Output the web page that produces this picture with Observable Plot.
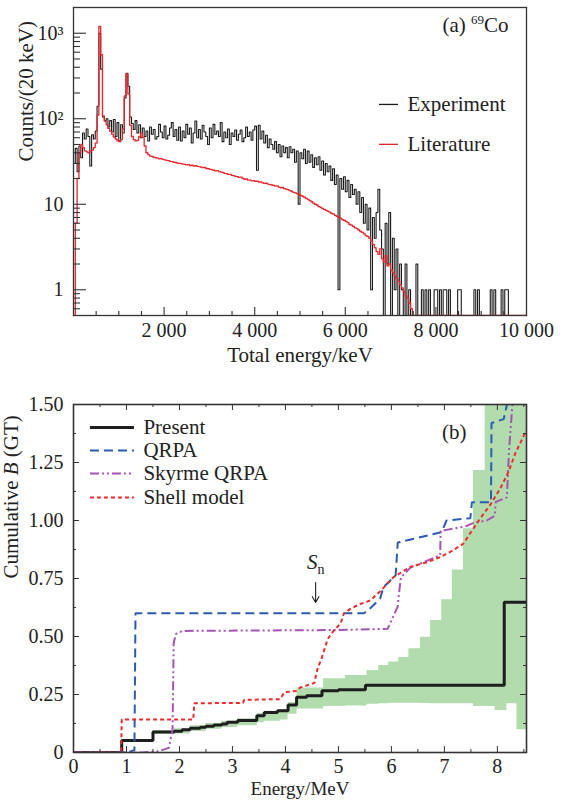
<!DOCTYPE html>
<html><head><meta charset="utf-8">
<script src="https://cdn.jsdelivr.net/npm/d3@7"></script>
<script src="https://cdn.jsdelivr.net/npm/@observablehq/plot@0.6"></script>
<style>body{margin:0;background:#fff} svg{display:block}</style>
</head><body>
<script>
// ---------- Panel (a): total-energy spectra, 40 keV bins starting at 0 keV ----------
const binWidth = 40;
const experiment = [
  30, 45, 24, 48, 35, 68, 58, 76, 62, 28,
  65, 58, 72, 140, 1000, 380, 105, 95, 100, 80,
  95, 70, 98, 62, 90, 55, 85, 68, 175, 340,
  240, 105, 88, 75, 95, 68, 85, 60, 78, 62,
  72, 55, 80, 66, 75, 58, 62, 86, 70, 60,
  82, 58, 64, 78, 90, 62, 75, 56, 80, 55,
  72, 60, 86, 66, 78, 52, 68, 94, 60, 75,
  58, 84, 70, 62, 50, 78, 60, 86, 66, 72,
  62, 90, 54, 70, 60, 76, 50, 68, 62, 74,
  56, 66, 74, 54, 60, 80, 62, 70, 56, 74,
  82, 25, 84, 58, 72, 52, 64, 46, 58, 50,
  44, 54, 40, 50, 36, 48, 40, 46, 35, 47,
  40, 44, 31, 42, 10, 40, 34, 44, 30, 42,
  31, 38, 27, 35, 29, 36, 25, 32, 22, 30,
  24, 28, 19, 26, 17, 22, 1, 20, 15, 21,
  14, 19, 12, 17, 13, 15, 10, 14, 8, 12,
  6, 10, 5, 9, 1, 7, 4, 8, 15, 5,
  3, 0, 6, 2, 8, 0, 4, 1, 3, 0,
  2, 1, 0, 2, 0, 1, 0, 0, 0, 2,
  0, 0, 1, 0, 1, 0, 1, 0, 0, 1,
  1, 0, 1, 0, 1, 1, 0, 1, 0, 0,
  0, 0, 1, 1, 0, 0, 0, 0, 0, 0,
  0, 1, 0, 1, 0, 0, 0, 0, 0, 0,
  1, 0, 1, 0, 0, 0, 1, 0, 1, 1,
  0, 0, 0, 0, 0, 0, 0, 0, 0, 0
];
const literature = [
  0, 6, 20, 40, 50, 46, 42, 41, 40, 42,
  43, 46, 52, 110, 1200, 560, 108, 94, 85, 77,
  71, 66, 61, 58, 55, 54, 57, 76, 185, 335,
  195, 84, 62, 57, 55, 56, 62, 68, 61, 48,
  40, 38, 36.5, 36.2, 35.3, 35, 34.6, 34, 34.2, 33.4,
  33, 32.6, 32.4, 31.8, 31.6, 31, 30.8, 30.2, 30, 29.8,
  29.4, 29.3, 28.8, 29, 28.4, 28.6, 28, 28.2, 27.8, 27.6,
  27.2, 26.8, 26.9, 26.2, 26, 25.6, 25.4, 25, 24.6, 24.8,
  24.1, 23.8, 23.6, 23, 22.8, 22.4, 22.4, 21.8, 21.6, 21.2,
  21, 20.6, 20.8, 20.1, 19.6, 19.8, 19.2, 19.1, 18.8, 18.9,
  18.5, 18.6, 18.2, 18.3, 17.8, 17.5, 17.6, 17.2, 17, 16.8,
  16.6, 16.3, 16.4, 15.9, 15.6, 15.7, 15.2, 15, 14.8, 14.4,
  14.2, 13.8, 13.6, 13.3, 13, 12.7, 12.4, 12.1, 11.7, 11.4,
  11, 10.7, 10.3, 10, 9.8, 9.4, 9.2, 8.9, 8.7, 8.5,
  8.3, 8.1, 7.8, 7.7, 7.4, 7.2, 7.0, 6.9, 6.6, 6.5,
  6.3, 6.1, 5.8, 5.7, 5.5, 5.3, 5.2, 5.0, 4.8, 4.7,
  4.5, 4.3, 4.2, 4.0, 3.7, 3.4, 3.1, 2.8, 2.6, 3.0,
  2.3, 2.1, 2.5, 1.9, 2.0, 1.7, 1.6, 1.45, 1.35, 1.25,
  1.15, 1.05, 0.95, 0.85, 0.8, 0.7, 0.6, 0, 0, 0,
  0, 0, 0, 0, 0, 0, 0, 0, 0, 0,
  0, 0, 0, 0, 0, 0, 0, 0, 0, 0,
  0, 0, 0, 0, 0, 0, 0, 0, 0, 0,
  0, 0, 0, 0, 0, 0, 0, 0, 0, 0,
  0, 0, 0, 0, 0, 0, 0, 0, 0, 0,
  0, 0, 0, 0, 0, 0, 0, 0, 0, 0
];
const seriesA = ["Experiment", "Literature"];
const xTicksA = [2000, 4000, 6000, 8000, 10000];
const yTicksA = [1, 10, 100, 1000];
const panelALabel = "(a) 69Co";

// ---------- Panel (b): cumulative B(GT) ----------
const presentE = [0, 0.91, 1.50, 1.90, 2.05, 2.2, 2.39, 2.5, 2.65, 2.8, 2.9, 3.1, 3.46, 3.6, 3.85, 4.05, 4.21, 4.4, 4.69, 5.0, 5.51, 8.13, 8.55];
const presentB = [0, 0.052, 0.088, 0.092, 0.098, 0.104, 0.109, 0.113, 0.118, 0.123, 0.13, 0.138, 0.158, 0.172, 0.18, 0.205, 0.238, 0.245, 0.266, 0.27, 0.29, 0.648, 0.648];

const bandE  = [1.50, 1.9, 2.2, 2.5, 2.8, 3.1, 3.47, 3.6, 3.9, 4.05, 4.22, 4.72, 5.13, 5.54, 5.76, 5.95, 6.14, 6.33, 6.55, 6.74, 6.95, 7.15, 7.36, 7.55, 7.77, 7.96, 8.18, 8.37, 8.55];
const bandLo = [0.078, 0.08, 0.09, 0.10, 0.108, 0.115, 0.128, 0.135, 0.14, 0.165, 0.188, 0.198, 0.2, 0.208, 0.21, 0.212, 0.212, 0.212, 0.211, 0.21, 0.21, 0.21, 0.21, 0.198, 0.198, 0.181, 0.21, 0.098, 0.098];
const bandHi = [0.095, 0.102, 0.115, 0.125, 0.135, 0.145, 0.168, 0.178, 0.185, 0.215, 0.278, 0.318, 0.332, 0.353, 0.375, 0.39, 0.41, 0.447, 0.497, 0.569, 0.658, 0.787, 0.964, 1.216, 1.6, 1.6, 1.6, 1.6, 1.6];

const qrpaE = [0, 1.0, 1.15, 1.17, 5.48, 5.57, 5.75, 5.79, 5.85, 6.08, 6.12, 6.95, 7.04, 7.49, 7.52, 7.88, 7.89, 8.12, 8.23];
const qrpaB = [0, 0, 0.01, 0.6, 0.6, 0.615, 0.655, 0.665, 0.713, 0.763, 0.905, 0.95, 1.0, 1.01, 1.079, 1.079, 1.42, 1.437, 1.55];

const skyrmeE = [0, 1.3, 1.6, 1.8, 1.87, 1.89, 1.93, 2.05, 5.0, 5.93, 6.12, 6.15, 6.18, 6.36, 6.92, 6.93, 7.4, 7.55, 7.8, 7.95, 7.97, 8.18, 8.22, 8.3];
const skyrmeB = [0, 0, 0.005, 0.02, 0.1, 0.47, 0.51, 0.524, 0.528, 0.533, 0.63, 0.7, 0.755, 0.797, 0.85, 0.955, 0.975, 0.99, 1.0, 1.02, 1.08, 1.1, 1.3, 1.55];

const shellE = [0, 0.9, 0.91, 2.26, 2.28, 3.2, 3.22, 3.9, 3.98, 4.2, 4.28, 4.55, 4.58, 4.62, 4.69, 4.75, 4.8, 4.91, 5.04, 5.1, 5.23, 5.41, 5.6, 5.79, 6.04, 6.36, 6.67, 6.92, 7.15, 7.36, 7.49, 7.65, 7.87, 8.06, 8.21, 8.34, 8.55];
const shellB = [0, 0, 0.142, 0.142, 0.212, 0.214, 0.227, 0.23, 0.26, 0.265, 0.28, 0.3, 0.34, 0.37, 0.41, 0.455, 0.49, 0.525, 0.555, 0.598, 0.62, 0.64, 0.655, 0.695, 0.756, 0.8, 0.82, 0.842, 0.87, 0.9, 0.946, 1.0, 1.069, 1.14, 1.21, 1.29, 1.39];

const seriesB = ["Present", "QRPA", "Skyrme QRPA", "Shell model"];
const xTicksB = [0, 1, 2, 3, 4, 5, 6, 7, 8];
const yTicksB = [0, 0.25, 0.5, 0.75, 1.0, 1.25, 1.5];
const snEnergy = 4.57;

// ---------- styling ----------
const font = "'Liberation Serif', 'Times New Roman', serif";
const ink = "#222";
const redA = "#e8262b";
const colB = {"Present": "#1e1e1e", "QRPA": "#2b5cb3", "Skyrme QRPA": "#a653b6", "Shell model": "#ee2b2b"};
const dashB = {"Present": null, "QRPA": "9,5", "Skyrme QRPA": "9,3,2,3,2,3", "Shell model": "4,3"};
const widthB = {"Present": 3, "QRPA": 2, "Skyrme QRPA": 2, "Shell model": 2};

const W = 562, mL = 73, mR = 36;
const fw = W - mL - mR;

function hist(arr) {
  const pts = arr.map((v, i) => ({x: i * binWidth, y: Math.max(v, 0.5)}));
  pts.push({x: arr.length * binWidth, y: Math.max(arr[arr.length - 1], 0.5)});
  return pts;
}
const zip = (xs, ys) => xs.map((x, i) => ({x, y: ys[i]}));

// ---------------- Panel A ----------------
const hA = 370, mtA = 7, mbA = 55, fhA = hA - mtA - mbA;
const minorXA = d3.range(500, 10000, 500).filter(d => d % 2000 !== 0);
const minorYA = [];
[0.1, 1, 10, 100].forEach(dec => { for (let k = 2; k <= 9; k++) { const v = k * dec; if (v > 0.5 && v < 2000) minorYA.push(v); } });
const supLog = {1: "1", 10: "10", 100: "10\u00B2", 1000: "10\u00B3"};

const chartA = Plot.plot({
  width: W, height: hA, marginLeft: mL, marginRight: mR, marginTop: mtA, marginBottom: mbA,
  style: {fontFamily: font, background: "white", color: ink, overflow: "visible"},
  x: {domain: [0, 10000]},
  y: {type: "log", domain: [0.5, 2000]},
  marks: [
    Plot.line(hist(experiment), {x: "x", y: "y", curve: "step-after", stroke: "#1a1a1a", strokeWidth: 1.1, clip: true}),
    Plot.line(hist(literature), {x: "x", y: "y", curve: "step-after", stroke: redA, strokeWidth: 1.3, clip: true}),
    Plot.frame({stroke: "#333", strokeWidth: 1.3}),
    Plot.tickX(xTicksA.slice(0, 4), {x: d => d, insetTop: fhA - 8, stroke: "#333", strokeWidth: 1.1}),
    Plot.tickX(minorXA, {x: d => d, insetTop: fhA - 4, stroke: "#333", strokeWidth: 1.1}),
    Plot.tickY(yTicksA, {y: d => d, insetRight: fw - 13, stroke: "#333", strokeWidth: 1.1}),
    Plot.tickY(minorYA, {y: d => d, insetRight: fw - 7, stroke: "#333", strokeWidth: 1.1}),
    Plot.axisX({ticks: xTicksA, tickSize: 0, tickPadding: 7, fontSize: 20, label: null,
      tickFormat: d => d3.format(",")(d).replace(",", " ")}),
    Plot.axisY({ticks: yTicksA, tickSize: 0, tickPadding: 10, fontSize: 20, label: null,
      tickFormat: d => supLog[d]}),
    Plot.text(["Total energy/keV"], {frameAnchor: "bottom", lineAnchor: "middle", dy: 40, fontSize: 21, fill: ink}),
    Plot.text(["Counts/(20 keV)"], {frameAnchor: "left", lineAnchor: "middle", dx: -47, rotate: -90, fontSize: 21, fill: ink}),
    Plot.text([panelALabel], {frameAnchor: "top-right", lineAnchor: "middle", dx: -18, dy: 18, textAnchor: "end", fontSize: 21, fill: ink}),
    // legend
    Plot.ruleY([147], {x1: 6755, x2: 7175, stroke: "#1a1a1a", strokeWidth: 1.3}),
    Plot.ruleY([50.2], {x1: 6755, x2: 7175, stroke: redA, strokeWidth: 1.3}),
    Plot.text([{t: seriesA[0], y: 147}, {t: seriesA[1], y: 50.2}], {x: 7373, y: "y", text: "t", textAnchor: "start", fontSize: 21, fill: ink})
  ]
});

// ---------------- Panel B ----------------
const hB = 430, mtB = 34, mbB = 48, fhB = hB - mtB - mbB;
const halfB = [0.5, 1.5, 2.5, 3.5, 4.5, 5.5, 6.5, 7.5, 8.5];
const minorYB = [0.125, 0.375, 0.625, 0.875, 1.125, 1.375];
const bandData = bandE.map((x, i) => ({x, lo: bandLo[i], hi: bandHi[i]}));
const legY = [1.401, 1.302, 1.203, 1.099];

function series(name, xs, ys, curve) {
  return Plot.line(zip(xs, ys), {x: "x", y: "y", curve, stroke: colB[name], strokeWidth: widthB[name],
    strokeDasharray: dashB[name], strokeLinecap: "butt", strokeLinejoin: "miter", clip: true});
}

const chartB = Plot.plot({
  width: W, height: hB, marginLeft: mL, marginRight: mR, marginTop: mtB, marginBottom: mbB,
  style: {fontFamily: font, background: "white", color: ink, overflow: "visible"},
  x: {domain: [0, 8.55]},
  y: {domain: [0, 1.5]},
  marks: [
    Plot.areaY(bandData, {x: "x", y1: "lo", y2: "hi", curve: "step-after", fill: "#b2dcae", clip: true}),
    series("Present", presentE, presentB, "step-after"),
    series("QRPA", qrpaE, qrpaB, "linear"),
    series("Skyrme QRPA", skyrmeE, skyrmeB, "linear"),
    series("Shell model", shellE, shellB, "linear"),
    Plot.frame({stroke: "#333", strokeWidth: 1.6}),
    Plot.tickX(xTicksB.slice(1), {x: d => d, insetTop: fhB - 6, stroke: "#333"}),
    Plot.tickX(halfB, {x: d => d, insetTop: fhB - 3, stroke: "#333"}),
    Plot.tickX(xTicksB.slice(1), {x: d => d, insetBottom: fhB - 6, stroke: "#333"}),
    Plot.tickX(halfB, {x: d => d, insetBottom: fhB - 3, stroke: "#333"}),
    Plot.tickY(yTicksB.slice(1, 6), {y: d => d, insetRight: fw - 6, stroke: "#333"}),
    Plot.tickY(minorYB, {y: d => d, insetRight: fw - 3, stroke: "#333"}),
    Plot.tickY(yTicksB.slice(1, 6), {y: d => d, insetLeft: fw - 6, stroke: "#333"}),
    Plot.tickY(minorYB, {y: d => d, insetLeft: fw - 3, stroke: "#333"}),
    Plot.axisX({ticks: xTicksB, tickSize: 0, tickPadding: 6, fontSize: 20, label: null, tickFormat: d => String(d)}),
    Plot.axisY({ticks: yTicksB, tickSize: 0, tickPadding: 10, fontSize: 20, label: null,
      tickFormat: d => d === 0 ? "0" : d3.format(".2f")(d)}),
    Plot.text(["Energy/MeV"], {frameAnchor: "bottom", lineAnchor: "middle", dy: 36.5, fontSize: 19, fill: ink}),
    Plot.text(["Cumulative B (GT)"], {frameAnchor: "left", lineAnchor: "middle", dx: -62, rotate: -90, fontSize: 21, fill: ink}),
    Plot.text(["(b)"], {frameAnchor: "top-right", lineAnchor: "middle", dx: -60, dy: 28, textAnchor: "end", fontSize: 21, fill: ink}),
    Plot.text(["Sn"], {x: snEnergy, y: 0.82, fontSize: 21, fill: ink}),
    Plot.arrow([snEnergy], {x1: d => d, x2: d => d, y1: 0.733, y2: 0.647, stroke: ink, strokeWidth: 1.1, headLength: 9}),
    // legend
    ...seriesB.map((name, i) => Plot.ruleY([legY[i]], {x1: 0.32, x2: 1.15, stroke: colB[name], strokeWidth: widthB[name],
      strokeDasharray: dashB[name], strokeLinecap: "butt"})),
    Plot.text(seriesB.map((t, i) => ({t, y: legY[i]})), {x: 1.32, y: "y", text: "t", textAnchor: "start", fontSize: 21, fill: ink})
  ]
});

function rich(svg, match, build) {
  d3.select(svg).selectAll("text").filter(function () { return this.textContent === match; })
    .each(function () { const t = d3.select(this); t.text(null); build(t); });
}
rich(chartA, panelALabel, t => {
  t.append("tspan").text("(a) ");
  t.append("tspan").attr("font-size", 13).attr("dy", -8).text("69");
  t.append("tspan").attr("dy", 8).text("Co");
});
rich(chartB, "Cumulative B (GT)", t => {
  t.append("tspan").text("Cumulative ");
  t.append("tspan").attr("font-style", "italic").text("B");
  t.append("tspan").text(" (GT)");
});
rich(chartB, "Sn", t => {
  t.append("tspan").attr("font-style", "italic").text("S");
  t.append("tspan").attr("font-size", 14).attr("dy", 5).text("n");
});

document.body.appendChild(chartA);
document.body.appendChild(chartB);
</script>
</body></html>
